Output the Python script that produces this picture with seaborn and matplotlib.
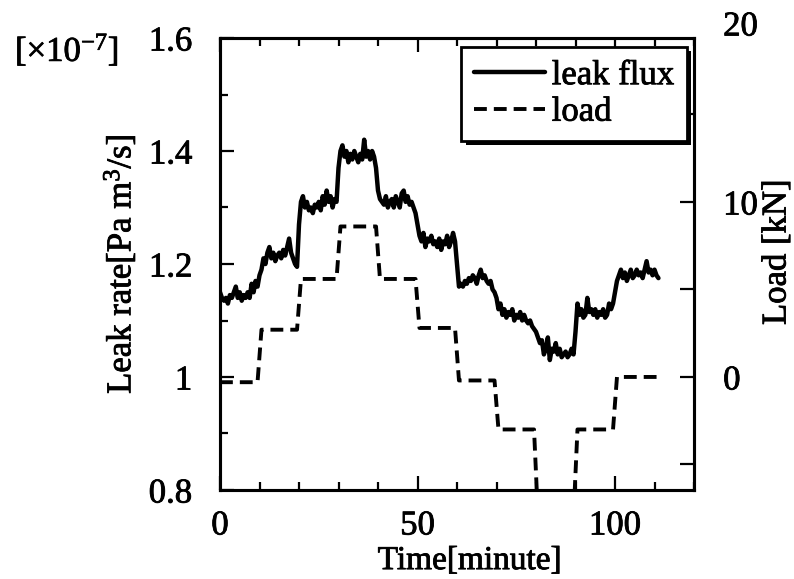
import matplotlib
matplotlib.use("Agg")
import numpy as np
import pandas as pd
import seaborn as sns
import matplotlib.pyplot as plt
import matplotlib.patheffects as pe
from matplotlib.text import Text
from matplotlib.ticker import FixedLocator, FixedFormatter, MultipleLocator, NullFormatter

# ---------------- data ----------------
# leak rate [x1e-7 Pa m^3/s], sampled every 0.5 minute, in 10-minute segments
leak_00_10 = [1.15, 1.14, 1.135, 1.14, 1.13, 1.145, 1.14, 1.15, 1.16, 1.14,
              1.15, 1.135, 1.145, 1.14, 1.15, 1.14, 1.165, 1.15, 1.17, 1.16]
leak_10_20 = [1.18, 1.19, 1.21, 1.20, 1.22, 1.23, 1.21, 1.22, 1.205, 1.215,
              1.22, 1.21, 1.225, 1.215, 1.23, 1.245, 1.22, 1.21, 1.20, 1.195]
leak_20_30 = [1.27, 1.31, 1.32, 1.30, 1.31, 1.295, 1.30, 1.29, 1.305, 1.30,
              1.31, 1.295, 1.32, 1.305, 1.33, 1.31, 1.32, 1.30, 1.315, 1.31]
leak_30_40 = [1.37, 1.40, 1.41, 1.39, 1.40, 1.38, 1.395, 1.385, 1.40, 1.39,
              1.38, 1.395, 1.385, 1.42, 1.39, 1.40, 1.385, 1.40, 1.39, 1.37]
leak_40_50 = [1.33, 1.315, 1.31, 1.305, 1.32, 1.30, 1.31, 1.315, 1.30, 1.32,
              1.31, 1.30, 1.325, 1.33, 1.31, 1.32, 1.305, 1.31, 1.30, 1.29]
leak_50_60 = [1.27, 1.25, 1.24, 1.255, 1.23, 1.245, 1.24, 1.25, 1.235, 1.24,
              1.23, 1.245, 1.225, 1.24, 1.235, 1.25, 1.23, 1.24, 1.255, 1.24]
leak_60_70 = [1.20, 1.16, 1.165, 1.16, 1.17, 1.165, 1.175, 1.17, 1.18, 1.175,
              1.165, 1.18, 1.19, 1.175, 1.18, 1.17, 1.165, 1.17, 1.155, 1.15]
leak_70_80 = [1.14, 1.12, 1.13, 1.11, 1.12, 1.105, 1.115, 1.11, 1.12, 1.10,
              1.11, 1.105, 1.115, 1.10, 1.11, 1.10, 1.095, 1.10, 1.09, 1.085]
leak_80_90 = [1.08, 1.07, 1.06, 1.065, 1.04, 1.05, 1.07, 1.03, 1.05, 1.045,
              1.06, 1.04, 1.05, 1.035, 1.04, 1.045, 1.035, 1.04, 1.05, 1.04]
leak_90_100 = [1.08, 1.13, 1.11, 1.12, 1.105, 1.11, 1.14, 1.115, 1.12, 1.11,
               1.12, 1.105, 1.115, 1.11, 1.12, 1.105, 1.11, 1.13, 1.12, 1.13]
leak_100_111 = [1.15, 1.17, 1.18, 1.19, 1.175, 1.185, 1.17, 1.18, 1.19, 1.175,
                1.18, 1.19, 1.18, 1.185, 1.175, 1.19, 1.205, 1.185, 1.19, 1.18,
                1.19, 1.18, 1.175]
leak_step_min = 0.5

# load [kN] step profile
load_time = [0, 9.5, 10.5, 19.5, 20.5, 29.5, 30.5, 39.5, 40.5, 49.5, 50.5,
             59.5, 60.5, 69.5, 70.5, 79.5, 80.5, 89.5, 90.5, 99.5, 100.5, 111]
load_kN = [-0.3, -0.3, 2.7, 2.7, 5.6, 5.6, 8.6, 8.6, 5.6, 5.6, 2.8,
           2.8, -0.2, -0.2, -3.0, -3.0, -8.0, -8.0, -3.0, -3.0, 0.0, 0.0]

x_major_ticks = [0, 50, 100]
x_tick_labels = ["0", "50", "100"]
left_ticks = [0.8, 1.0, 1.2, 1.4, 1.6]
left_tick_labels = ["0.8", "1", "1.2", "1.4", "1.6"]
right_major_ticks = [0, 10]
right_tick_labels = ["0", "10"]
right_minor_ticks = [-5, 5, 15]

leak_rate = (leak_00_10 + leak_10_20 + leak_20_30 + leak_30_40 + leak_40_50 +
             leak_50_60 + leak_60_70 + leak_70_80 + leak_80_90 + leak_90_100 +
             leak_100_111)
leak_time = np.arange(len(leak_rate)) * leak_step_min
leak_df = pd.DataFrame({"time": leak_time, "leak": leak_rate})
load_df = pd.DataFrame({"time": load_time, "load": load_kN})

# ---------------- style ----------------
sns.set_theme(style="ticks")
plt.rcParams["font.family"] = ["Liberation Serif", "DejaVu Serif"]
plt.rcParams["mathtext.fontset"] = "custom"
plt.rcParams["mathtext.rm"] = "Liberation Serif"
plt.rcParams["mathtext.it"] = "Liberation Serif:italic"
plt.rcParams["mathtext.bf"] = "Liberation Serif:bold"
for k in ("text.color", "axes.labelcolor", "xtick.color", "ytick.color",
          "axes.edgecolor"):
    plt.rcParams[k] = "black"
FS = 25

fig = plt.figure(figsize=(7.94, 5.79), dpi=100)
W, H = 794, 579
ax = fig.add_axes([220 / W, 1 - 490 / H, 474 / W, 452 / H])

sns.lineplot(data=leak_df, x="time", y="leak", ax=ax, color="black",
             lw=3.2, estimator=None)
ax.set_xlim(0, 120)
ax.set_ylim(0.8, 1.6)

ax2 = ax.twinx()
sns.lineplot(data=load_df, x="time", y="load", ax=ax2, color="black",
             lw=2.8, linestyle=(0, (3.3, 1.8)), estimator=None)
ax2.set_ylim(-6.46, 19.37)

# ticks
ax.xaxis.set_major_locator(FixedLocator(x_major_ticks))
ax.xaxis.set_major_formatter(FixedFormatter(x_tick_labels))
ax.xaxis.set_minor_locator(MultipleLocator(10))
ax.yaxis.set_major_locator(FixedLocator(left_ticks))
ax.yaxis.set_major_formatter(FixedFormatter(left_tick_labels))
ax.yaxis.set_minor_locator(MultipleLocator(0.1))
ax.yaxis.set_minor_formatter(NullFormatter())
ax.tick_params(which="both", direction="in", top=True, right=False,
               width=1.6, labelsize=FS, colors="black")
ax.tick_params(which="major", length=10)
ax.tick_params(which="minor", length=6)
ax.tick_params(axis="y", which="both", pad=20)
ax.tick_params(axis="x", which="both", pad=14)

ax2.yaxis.set_major_locator(FixedLocator(right_major_ticks))
ax2.yaxis.set_major_formatter(FixedFormatter(right_tick_labels))
ax2.yaxis.set_minor_locator(FixedLocator(right_minor_ticks))
ax2.yaxis.set_minor_formatter(NullFormatter())
ax2.tick_params(which="both", direction="in", length=10, width=1.6,
                labelsize=FS, pad=21, colors="black")
ax2.annotate("20", xy=(1, 20), xycoords=("axes fraction", "data"),
             xytext=(21, 0), textcoords="offset points", ha="left",
             va="center", fontsize=FS, annotation_clip=False)

for a in (ax, ax2):
    for s in a.spines.values():
        s.set_linewidth(2.2)
        s.set_color("black")

# labels
ax.set_xlabel("Time[minute]", fontsize=24, color="black")
ax.xaxis.set_label_coords(0.527, -0.123)
ax.set_ylabel("Leak rate[Pa m$^{3}$/s]", fontsize=FS, color="black")
ax.yaxis.set_label_coords(-0.172, 0.5)
ax2.set_ylabel("")
fig.text(777 / W, 1 - 252 / H, "Load [kN]", rotation=90, ha="center",
         va="center", fontsize=FS)
fig.text(15 / W, 1 - 50 / H, "[×10$^{-7}$]", ha="left", va="center",
         fontsize=FS)

# legend
handles = [ax.lines[0], ax2.lines[0]]
leg = ax2.legend(handles, ["leak flux", "load"], loc="upper right",
                 bbox_to_anchor=(0.985, 0.98), fontsize=FS, frameon=True,
                 fancybox=False, edgecolor="black", framealpha=1,
                 borderpad=0.35, handlelength=2.05, handletextpad=0.2,
                 labelspacing=0.1, borderaxespad=0,
                 shadow={"ox": 3, "oy": -3, "facecolor": "black",
                         "edgecolor": "none", "alpha": 1})
leg.get_frame().set_linewidth(2)

# slightly heavier text, like the scanned original
for t in fig.findobj(Text):
    t.set_path_effects([pe.withStroke(linewidth=0.6, foreground="black")])

fig.savefig("out.png", dpi=100)
